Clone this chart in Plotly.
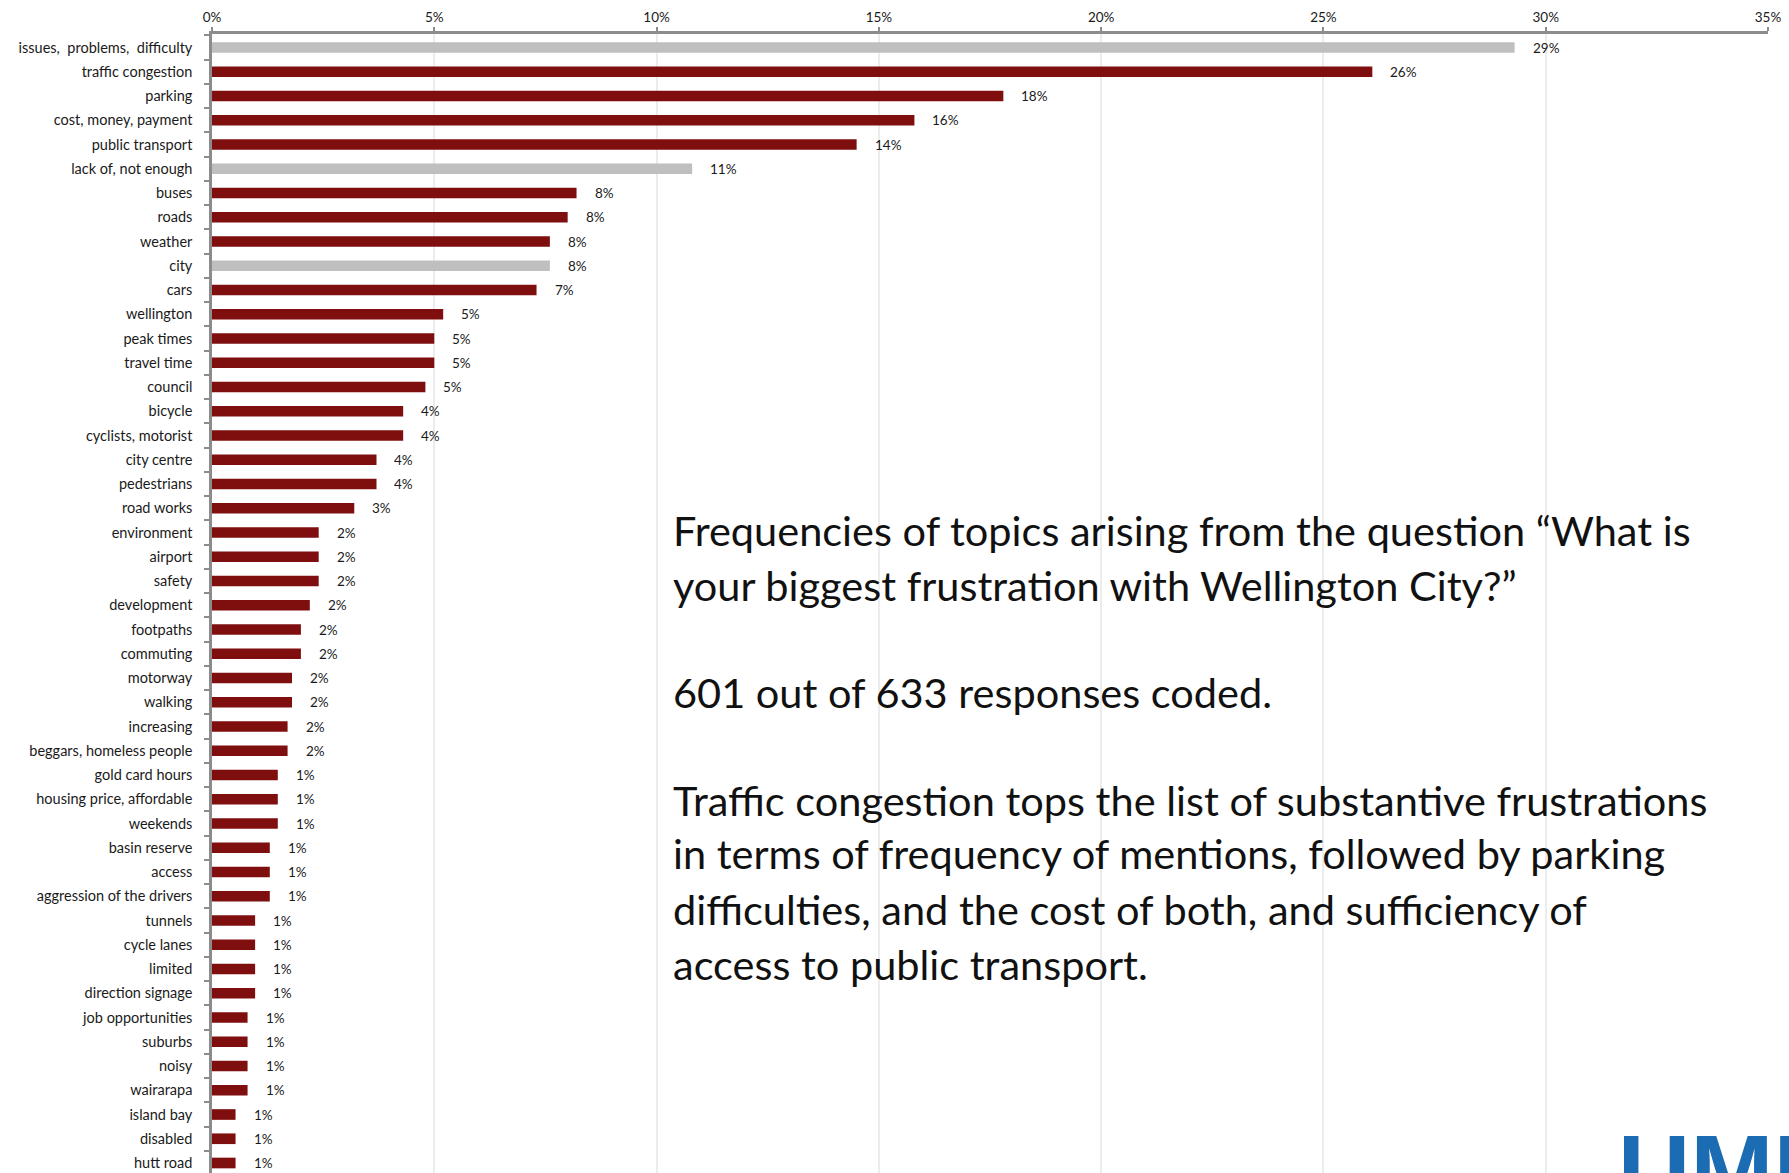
import plotly.graph_objects as go

# 话题类别（从上到下）
topics = [
    "issues,  problems,  difficulty", "traffic congestion", "parking",
    "cost, money, payment", "public transport", "lack of, not enough",
    "buses", "roads", "weather", "city", "cars", "wellington", "peak times",
    "travel time", "council", "bicycle", "cyclists, motorist", "city centre",
    "pedestrians", "road works", "environment", "airport", "safety",
    "development", "footpaths", "commuting", "motorway", "walking",
    "increasing", "beggars, homeless people", "gold card hours",
    "housing price, affordable", "weekends", "basin reserve", "access",
    "aggression of the drivers", "tunnels", "cycle lanes", "limited",
    "direction signage", "job opportunities", "suburbs", "noisy",
    "wairarapa", "island bay", "disabled", "hutt road",
]

# 百分比
pct = [
    29.3, 26.1, 17.8, 15.8, 14.5, 10.8, 8.2, 8.0, 7.6, 7.6,
    7.3, 5.2, 5.0, 5.0, 4.8, 4.3, 4.3, 3.7, 3.7, 3.2,
    2.4, 2.4, 2.4, 2.2, 2.0, 2.0, 1.8, 1.8, 1.7, 1.7,
    1.48, 1.48, 1.48, 1.3, 1.3, 1.3, 0.97, 0.97, 0.97, 0.97,
    0.8, 0.8, 0.8, 0.8, 0.53, 0.53, 0.53,
]

# 非实质性话题用灰色
generic = ["issues,  problems,  difficulty", "lack of, not enough", "city"]

x_ticks = [0, 5, 10, 15, 20, 25, 30, 35]

notes = [
    "Frequencies of topics arising from the question \u201cWhat is",
    "your biggest frustration with Wellington City?\u201d",
    "601 out of 633 responses coded.",
    "Traffic congestion tops the list of substantive frustrations",
    "in terms of frequency of mentions, followed by parking",
    "difficulties, and the cost of both, and sufficiency of",
    "access to public transport.",
]
note_y = [530, 585, 692, 800, 853, 909, 964]

W, H = 1789, 1173
L, R, T = 212, 1768, 34
RED = "#7f0f0f"
GREY = "#bfbfbf"
AXIS = "#8c8c8c"
FONT = "Lato, 'Open Sans', sans-serif"


def px_x(p):
    return (p - L) / (R - L)


def px_y(p):
    return 1 - (p - T) / (H - T)


colors = [GREY if t in generic else RED for t in topics]

fig = go.Figure()
fig.add_trace(go.Bar(
    x=pct,
    y=topics,
    orientation="h",
    marker=dict(color=colors, line=dict(width=0)),
    width=0.44,
    hoverinfo="x+y",
))

# 数值标签
for t, v in zip(topics, pct):
    fig.add_annotation(
        x=v, y=t, xref="x", yref="y",
        text=f"{round(v)}%", showarrow=False,
        xanchor="left", xshift=16,
        font=dict(family=FONT, size=13.5, color="#1a1a1a"),
    )

# 右侧说明文字
for line, py in zip(notes, note_y):
    fig.add_annotation(
        x=px_x(671), y=px_y(py), xref="paper", yref="paper",
        text=line, showarrow=False,
        xanchor="left", yanchor="middle",
        font=dict(family=FONT, size=41.5, color="#111111"),
    )

# 右下角标志（被裁切）
fig.add_annotation(
    x=px_x(1616), y=px_y(1112), xref="paper", yref="paper",
    text="<b>UMR</b>", showarrow=False,
    xanchor="left", yanchor="top",
    font=dict(family="Liberation Sans, Arial", size=100, color="#1b6cb2"),
)

row0, step = 47.5, 24.25
fig.update_layout(
    width=W, height=H,
    margin=dict(l=L, r=W - R, t=T, b=0),
    plot_bgcolor="white", paper_bgcolor="white",
    showlegend=False,
    xaxis=dict(
        side="top",
        range=[0, 35],
        tickvals=x_ticks,
        ticktext=[f"{v}%" for v in x_ticks],
        showgrid=True, gridcolor="#ececec", gridwidth=1.5,
        showline=True, linecolor=AXIS, linewidth=2.5,
        ticks="outside", ticklen=4, tickcolor=AXIS, tickwidth=2,
        tickfont=dict(family=FONT, size=13.5, color="#1a1a1a"),
        zeroline=False, fixedrange=True,
    ),
    yaxis=dict(
        type="category",
        categoryorder="array", categoryarray=topics,
        range=[(H - row0) / step, -(row0 - T) / step],
        showline=True, linecolor=AXIS, linewidth=2.5,
        ticks="outside", ticklen=5, tickcolor=AXIS, tickwidth=2,
        tickson="boundaries",
        ticklabelstandoff=14,
        tickfont=dict(family=FONT, size=14.5, color="#1a1a1a"),
        showgrid=False, zeroline=False, fixedrange=True,
    ),
)

fig.write_html(
    "out.html",
    config={"displayModeBar": False},
    post_script="document.body.style.margin='0';",
)
